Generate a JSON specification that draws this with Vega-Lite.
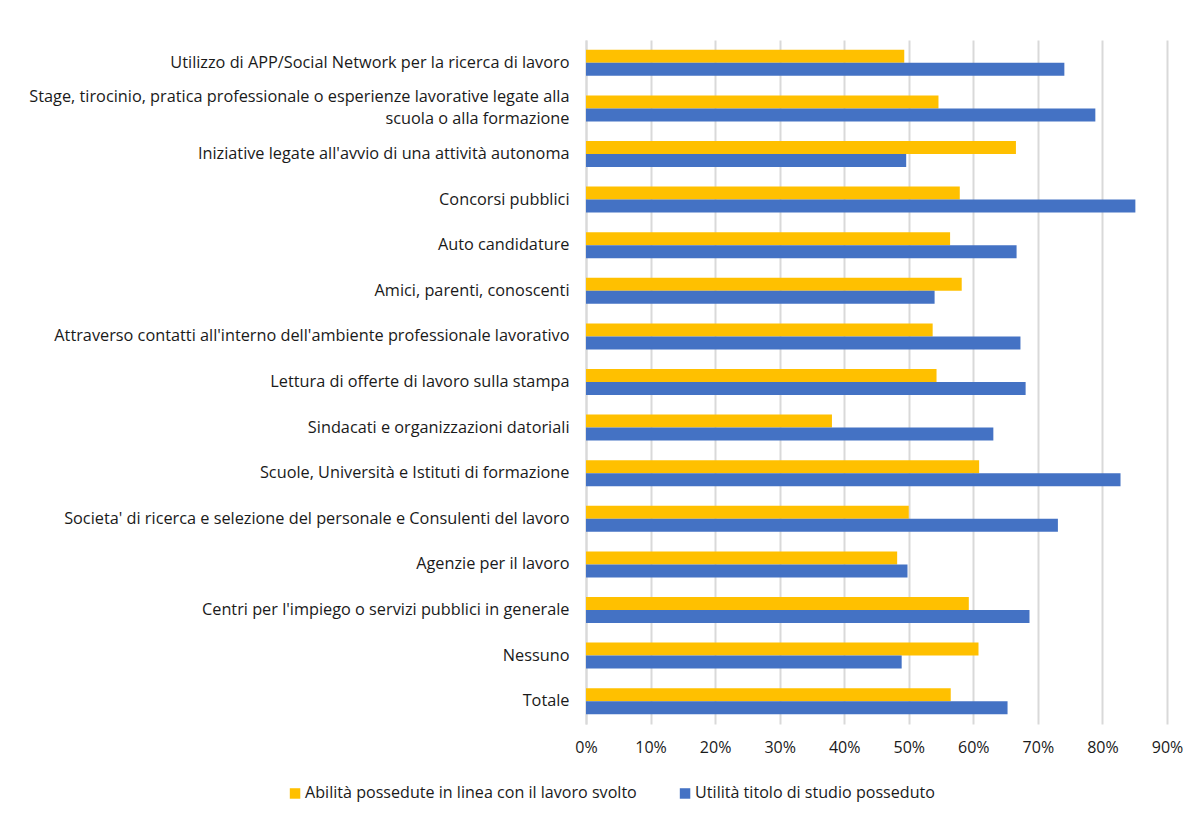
{
  "$schema": "https://vega.github.io/schema/vega-lite/v6.json",
  "autosize": {"type": "none"},
  "padding": {"left": 586, "top": 40, "right": 33, "bottom": 96},
  "width": 581,
  "height": 684,
  "background": "#ffffff",
  "config": {
    "font": "Open Sans",
    "view": {"stroke": null},
    "axis": {"labelFont": "Open Sans", "labelColor": "#1a1a1a", "labelFontSize": 16.3}
  },
  "data": {
    "values": [
      {"canale": "Utilizzo di APP/Social Network per la ricerca di lavoro", "serie": "Abilità possedute in linea con il lavoro svolto", "quota": 0.493},
      {"canale": "Utilizzo di APP/Social Network per la ricerca di lavoro", "serie": "Utilità titolo di studio posseduto", "quota": 0.741},
      {"canale": "Stage, tirocinio, pratica professionale o esperienze lavorative legate alla scuola o alla formazione", "serie": "Abilità possedute in linea con il lavoro svolto", "quota": 0.546},
      {"canale": "Stage, tirocinio, pratica professionale o esperienze lavorative legate alla scuola o alla formazione", "serie": "Utilità titolo di studio posseduto", "quota": 0.789},
      {"canale": "Iniziative legate all'avvio di una attività autonoma", "serie": "Abilità possedute in linea con il lavoro svolto", "quota": 0.666},
      {"canale": "Iniziative legate all'avvio di una attività autonoma", "serie": "Utilità titolo di studio posseduto", "quota": 0.496},
      {"canale": "Concorsi pubblici", "serie": "Abilità possedute in linea con il lavoro svolto", "quota": 0.579},
      {"canale": "Concorsi pubblici", "serie": "Utilità titolo di studio posseduto", "quota": 0.851},
      {"canale": "Auto candidature", "serie": "Abilità possedute in linea con il lavoro svolto", "quota": 0.564},
      {"canale": "Auto candidature", "serie": "Utilità titolo di studio posseduto", "quota": 0.667},
      {"canale": "Amici, parenti, conoscenti", "serie": "Abilità possedute in linea con il lavoro svolto", "quota": 0.582},
      {"canale": "Amici, parenti, conoscenti", "serie": "Utilità titolo di studio posseduto", "quota": 0.540},
      {"canale": "Attraverso contatti all'interno dell'ambiente professionale lavorativo", "serie": "Abilità possedute in linea con il lavoro svolto", "quota": 0.537},
      {"canale": "Attraverso contatti all'interno dell'ambiente professionale lavorativo", "serie": "Utilità titolo di studio posseduto", "quota": 0.673},
      {"canale": "Lettura di offerte di lavoro sulla stampa", "serie": "Abilità possedute in linea con il lavoro svolto", "quota": 0.543},
      {"canale": "Lettura di offerte di lavoro sulla stampa", "serie": "Utilità titolo di studio posseduto", "quota": 0.681},
      {"canale": "Sindacati e organizzazioni datoriali", "serie": "Abilità possedute in linea con il lavoro svolto", "quota": 0.381},
      {"canale": "Sindacati e organizzazioni datoriali", "serie": "Utilità titolo di studio posseduto", "quota": 0.631},
      {"canale": "Scuole, Università e Istituti di formazione", "serie": "Abilità possedute in linea con il lavoro svolto", "quota": 0.609},
      {"canale": "Scuole, Università e Istituti di formazione", "serie": "Utilità titolo di studio posseduto", "quota": 0.828},
      {"canale": "Societa' di ricerca e selezione del personale e Consulenti del lavoro", "serie": "Abilità possedute in linea con il lavoro svolto", "quota": 0.500},
      {"canale": "Societa' di ricerca e selezione del personale e Consulenti del lavoro", "serie": "Utilità titolo di studio posseduto", "quota": 0.731},
      {"canale": "Agenzie per il lavoro", "serie": "Abilità possedute in linea con il lavoro svolto", "quota": 0.482},
      {"canale": "Agenzie per il lavoro", "serie": "Utilità titolo di studio posseduto", "quota": 0.498},
      {"canale": "Centri per l'impiego o servizi pubblici in generale", "serie": "Abilità possedute in linea con il lavoro svolto", "quota": 0.593},
      {"canale": "Centri per l'impiego o servizi pubblici in generale", "serie": "Utilità titolo di studio posseduto", "quota": 0.687},
      {"canale": "Nessuno", "serie": "Abilità possedute in linea con il lavoro svolto", "quota": 0.608},
      {"canale": "Nessuno", "serie": "Utilità titolo di studio posseduto", "quota": 0.489},
      {"canale": "Totale", "serie": "Abilità possedute in linea con il lavoro svolto", "quota": 0.565},
      {"canale": "Totale", "serie": "Utilità titolo di studio posseduto", "quota": 0.653}
    ]
  },
  "mark": {"type": "bar", "cornerRadius": 0},
  "encoding": {
    "y": {
      "field": "canale",
      "type": "nominal",
      "sort": null,
      "title": null,
      "scale": {"paddingInner": 0.43, "paddingOuter": 0.215},
      "axis": {
        "ticks": false,
        "domain": true,
        "domainColor": "#d9d9d9",
        "domainWidth": 2,
        "labelPadding": 17,
        "labelLimit": 600,
        "labelLineHeight": 22,
        "labelOffset": {
          "condition": {"test": "datum.value == 'Stage, tirocinio, pratica professionale o esperienze lavorative legate alla scuola o alla formazione'", "value": -11},
          "value": 0
        },
        "labelExpr": "datum.value == 'Stage, tirocinio, pratica professionale o esperienze lavorative legate alla scuola o alla formazione' ? ['Stage, tirocinio, pratica professionale o esperienze lavorative legate alla', 'scuola o alla formazione'] : datum.label"
      }
    },
    "yOffset": {
      "field": "serie",
      "type": "nominal",
      "sort": ["Abilità possedute in linea con il lavoro svolto", "Utilità titolo di studio posseduto"],
      "scale": {"paddingInner": 0, "paddingOuter": 0}
    },
    "x": {
      "field": "quota",
      "type": "quantitative",
      "title": null,
      "scale": {"domain": [0, 0.9], "nice": false},
      "axis": {
        "format": ".0%",
        "values": [0, 0.1, 0.2, 0.3, 0.4, 0.5, 0.6, 0.7, 0.8, 0.9],
        "domain": false,
        "ticks": false,
        "grid": true,
        "gridColor": "#d9d9d9",
        "gridWidth": 2,
        "labelFlush": false,
        "labelPadding": 15,
        "labelFontSize": 16
      }
    },
    "color": {
      "field": "serie",
      "type": "nominal",
      "sort": ["Abilità possedute in linea con il lavoro svolto", "Utilità titolo di studio posseduto"],
      "scale": {"range": ["#ffc000", "#4472c4"]},
      "legend": {
        "title": null,
        "orient": "none",
        "direction": "horizontal",
        "legendX": -299,
        "legendY": 745,
        "symbolType": "square",
        "symbolSize": 110,
        "symbolStrokeWidth": 0,
        "labelFont": "Open Sans",
        "labelFontSize": 16.1,
        "labelColor": "#1a1a1a",
        "labelOffset": 2,
        "columnPadding": 40,
        "labelLimit": 500
      }
    }
  }
}
